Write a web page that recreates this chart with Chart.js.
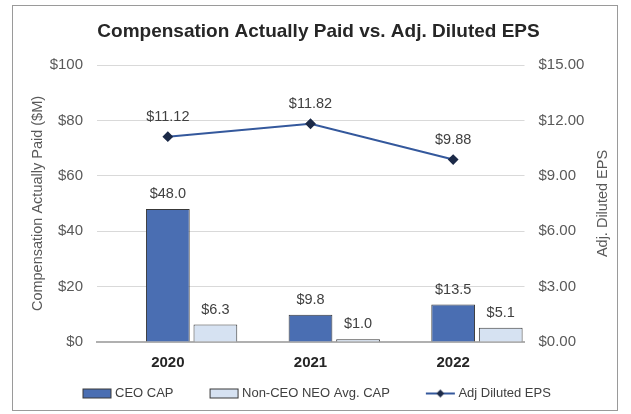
<!DOCTYPE html>
<html lang="en">
<head>
    <meta charset="UTF-8">
    <script src="https://cdn.jsdelivr.net/npm/chart.js"></script>
    <title>Compensation Actually Paid vs. Adj. Diluted EPS</title>
    <style>
        html, body { margin: 0; padding: 0; background: #fff; }
        #frame { position: absolute; left: 12px; top: 5px; width: 604px; height: 404px; border: 1px solid #9a9a9a; }
        canvas { display: block; }
    </style>
</head>
<body>
    <div id="frame"><canvas id="capChart" width="604" height="404"></canvas></div>
    <script>
        // data
        const years = ['2020', '2021', '2022'];
        const ceoCap = [48.0, 9.8, 13.5];
        const neoCap = [6.3, 1.0, 5.1];
        const adjEps = [11.12, 11.82, 9.88];

        const capMax = 100, capStep = 20;   // left axis ($M)
        const epsMax = 15, epsStep = 3;     // right axis ($)

        const chartTitle = 'Compensation Actually Paid vs. Adj. Diluted EPS';
        const leftTitle = 'Compensation Actually Paid ($M)';
        const rightTitle = 'Adj. Diluted EPS';

        Chart.defaults.font.family = '"Liberation Sans", Arial, sans-serif';
        Chart.defaults.color = '#595959';

        const CEO_BLUE = '#4a6eb2';
        const NEO_BLUE = '#d6e2f2';
        const BAR_EDGE = '#383838';
        const LINE_BLUE = '#34589c';
        const MARKER = '#1c2a48';

        // legend icons, drawn a bit wider than the legend box so the text sits close
        function legendIcon(kind) {
            const c = document.createElement('canvas');
            c.width = 62; c.height = 12;
            const g = c.getContext('2d');
            const x0 = 32;
            if (kind === 'line') {
                g.strokeStyle = LINE_BLUE; g.lineWidth = 2;
                g.beginPath(); g.moveTo(x0, 6); g.lineTo(x0 + 29, 6); g.stroke();
                g.fillStyle = MARKER;
                g.beginPath();
                g.moveTo(x0 + 14.5, 2); g.lineTo(x0 + 18.5, 6); g.lineTo(x0 + 14.5, 10); g.lineTo(x0 + 10.5, 6);
                g.closePath(); g.fill();
            } else {
                g.fillStyle = kind;
                g.fillRect(x0 + 0.5, 1.5, 28, 9);
                g.strokeStyle = BAR_EDGE; g.lineWidth = 1;
                g.strokeRect(x0 + 0.5, 1.5, 28, 9);
            }
            return c;
        }
        const icons = { 0: legendIcon('line'), 2: legendIcon(CEO_BLUE), 3: legendIcon(NEO_BLUE) };

        // values above bars and points
        const valueLabels = {
            id: 'valueLabels',
            afterDatasetsDraw(chart) {
                const ctx = chart.ctx;
                ctx.save();
                ctx.font = '14.5px "Liberation Sans", Arial, sans-serif';
                ctx.fillStyle = '#404040';
                ctx.textAlign = 'center';
                ctx.textBaseline = 'middle';
                chart.data.datasets.forEach((ds, i) => {
                    if (ds.digits == null) return;
                    chart.getDatasetMeta(i).data.forEach((el, j) => {
                        const v = ds.data[j];
                        if (v == null) return;
                        const lift = ds.type === 'line' ? 20 : 15;
                        ctx.fillText('$' + v.toFixed(ds.digits), el.x, el.y - lift);
                    });
                });
                ctx.restore();
            }
        };

        // both axis titles read bottom to top, as in the original
        const axisTitles = {
            id: 'axisTitles',
            afterDraw(chart) {
                const ctx = chart.ctx;
                const a = chart.chartArea;
                const mid = (a.top + a.bottom) / 2;
                ctx.save();
                ctx.font = '14.5px "Liberation Sans", Arial, sans-serif';
                ctx.fillStyle = '#595959';
                ctx.textAlign = 'center';
                ctx.textBaseline = 'middle';
                [[25, leftTitle], [590, rightTitle]].forEach(([x, t]) => {
                    ctx.save();
                    ctx.translate(x, mid);
                    ctx.rotate(-Math.PI / 2);
                    ctx.fillText(t, 0, 0);
                    ctx.restore();
                });
                ctx.restore();
            }
        };

        const ctx = document.getElementById('capChart').getContext('2d');
        const capChart = new Chart(ctx, {
            data: {
                labels: years,
                datasets: [
                    {
                        type: 'line',
                        label: 'Adj Diluted EPS',
                        data: adjEps,
                        yAxisID: 'y1',
                        order: 0,
                        digits: 2,
                        borderColor: LINE_BLUE,
                        borderWidth: 2,
                        pointStyle: 'rectRot',
                        pointRadius: 4,
                        pointBackgroundColor: MARKER,
                        pointBorderColor: MARKER,
                        tension: 0
                    },
                    {
                        // empty slot so the CEO bar sits on the year like in Excel
                        type: 'bar',
                        label: '',
                        data: [null, null, null],
                        yAxisID: 'y',
                        order: 1
                    },
                    {
                        type: 'bar',
                        label: 'CEO CAP',
                        data: ceoCap,
                        yAxisID: 'y',
                        order: 1,
                        digits: 1,
                        backgroundColor: CEO_BLUE,
                        borderColor: BAR_EDGE,
                        borderWidth: 1
                    },
                    {
                        type: 'bar',
                        label: 'Non-CEO NEO Avg. CAP',
                        data: neoCap,
                        yAxisID: 'y',
                        order: 1,
                        digits: 1,
                        backgroundColor: NEO_BLUE,
                        borderColor: BAR_EDGE,
                        borderWidth: 1
                    }
                ]
            },
            options: {
                responsive: false,
                animation: false,
                datasets: {
                    bar: { categoryPercentage: 1.0, barPercentage: 0.92 }
                },
                layout: { padding: { left: 33.5, right: 26.5, top: 0, bottom: 0 } },
                scales: {
                    x: {
                        grid: { display: false, drawTicks: false },
                        border: { color: '#b0b0b0', width: 2 },
                        ticks: {
                            padding: 11.5,
                            color: '#262626',
                            font: { size: 15, weight: 'bold' }
                        },
                        afterFit: (s) => { s.height = 37; }
                    },
                    y: {
                        position: 'left',
                        min: 0,
                        max: capMax,
                        grid: { color: '#d9d9d9', drawTicks: false },
                        border: { display: false },
                        ticks: {
                            stepSize: capStep,
                            padding: 13.5,
                            font: { size: 15 },
                            callback: (v) => '$' + v
                        },
                        afterFit: (s) => { s.width = 50; }
                    },
                    y1: {
                        position: 'right',
                        min: 0,
                        max: epsMax,
                        grid: { display: false, drawTicks: false },
                        border: { display: false },
                        ticks: {
                            stepSize: epsStep,
                            padding: 14,
                            font: { size: 15 },
                            callback: (v) => '$' + v.toFixed(2)
                        },
                        afterFit: (s) => { s.width = 66; }
                    }
                },
                plugins: {
                    title: {
                        display: true,
                        text: chartTitle,
                        color: '#262626',
                        font: { size: 19, weight: 'bold' },
                        padding: { top: 14.1, bottom: 22.1 }
                    },
                    legend: {
                        position: 'bottom',
                        align: 'start',
                        labels: {
                            usePointStyle: true,
                            pointStyleWidth: 54,
                            padding: 8,
                            color: '#404040',
                            font: { size: 13 },
                            filter: (item) => item.text !== '',
                            sort: (a, b) => a.datasetIndex === 0 ? 1 : (b.datasetIndex === 0 ? -1 : a.datasetIndex - b.datasetIndex),
                            generateLabels: (chart) => {
                                const items = Chart.defaults.plugins.legend.labels.generateLabels(chart);
                                items.forEach((it) => { it.pointStyle = icons[it.datasetIndex] || it.pointStyle; });
                                return items;
                            }
                        }
                    },
                    tooltip: { enabled: false }
                }
            },
            plugins: [valueLabels, axisTitles]
        });
    </script>
</body>
</html>
